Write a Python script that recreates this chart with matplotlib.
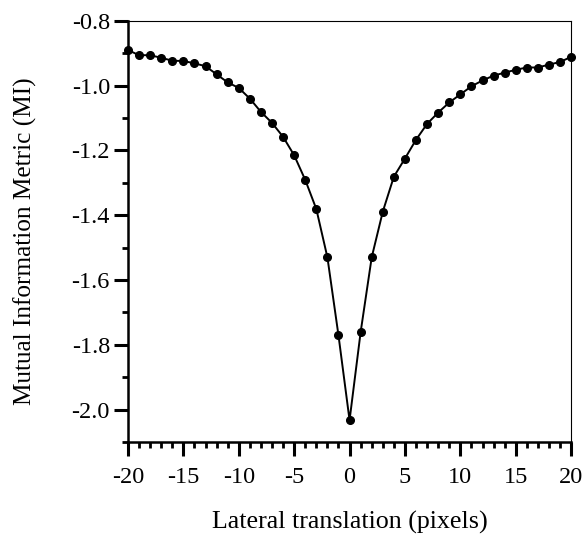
import numpy as np
import matplotlib.pyplot as plt
from matplotlib.ticker import MultipleLocator

# lateral shift in pixels and the MI metric value
shift = list(range(-20, 21))
mi_values = [
    -0.890, -0.906, -0.906, -0.914, -0.923, -0.924, -0.931, -0.940, -0.965, -0.990,
    -1.007, -1.040, -1.081, -1.115, -1.158, -1.215, -1.291, -1.381, -1.530, -1.771,
    -2.033,
    -1.761, -1.530, -1.389, -1.281, -1.225, -1.167, -1.118, -1.083, -1.052, -1.027,
    -1.002, -0.984, -0.969, -0.960, -0.951, -0.944, -0.944, -0.935, -0.927, -0.911,
]
x_ticks = [-20, -15, -10, -5, 0, 5, 10, 15, 20]
y_ticks = [-2.0, -1.8, -1.6, -1.4, -1.2, -1.0, -0.8]

plt.rcParams["font.family"] = ["Liberation Serif", "DejaVu Serif"]

fig = plt.figure(figsize=(5.87, 5.35), dpi=100)
ax = fig.add_axes([0.218, 0.174, 0.755, 0.787])

ax.plot(shift, mi_values, color="black", lw=1.4, marker="o", ms=5.5,
        mfc="black", mec="black", clip_on=False, zorder=3)

ax.set_xlim(-20, 20)
ax.set_ylim(-2.1, -0.8)
ax.set_xticks(x_ticks)
ax.set_xticklabels([str(t) for t in x_ticks])
ax.set_yticks(y_ticks)
ax.set_yticklabels([f"{t:.1f}" for t in y_ticks])
ax.xaxis.set_minor_locator(MultipleLocator(1))
ax.yaxis.set_minor_locator(MultipleLocator(0.1))

ax.tick_params(which="major", direction="out", length=10, width=2.2, labelsize=17.5)
ax.tick_params(axis="x", which="major", pad=8)
ax.tick_params(axis="y", which="major", pad=3)
ax.tick_params(which="minor", direction="out", length=4, width=2)
ax.tick_params(top=False, right=False)

for side in ["left", "bottom"]:
    ax.spines[side].set_linewidth(1.8)
for side in ["top", "right"]:
    ax.spines[side].set_linewidth(0.8)

ax.set_xlabel("Lateral translation (pixels)", fontsize=18.7)
ax.set_ylabel("Mutual Information Metric (MI)", fontsize=18.2)
ax.xaxis.set_label_coords(0.5, -0.164)
ax.yaxis.set_label_coords(-0.205, 0.477)

fig.savefig("out.png", dpi=100)
